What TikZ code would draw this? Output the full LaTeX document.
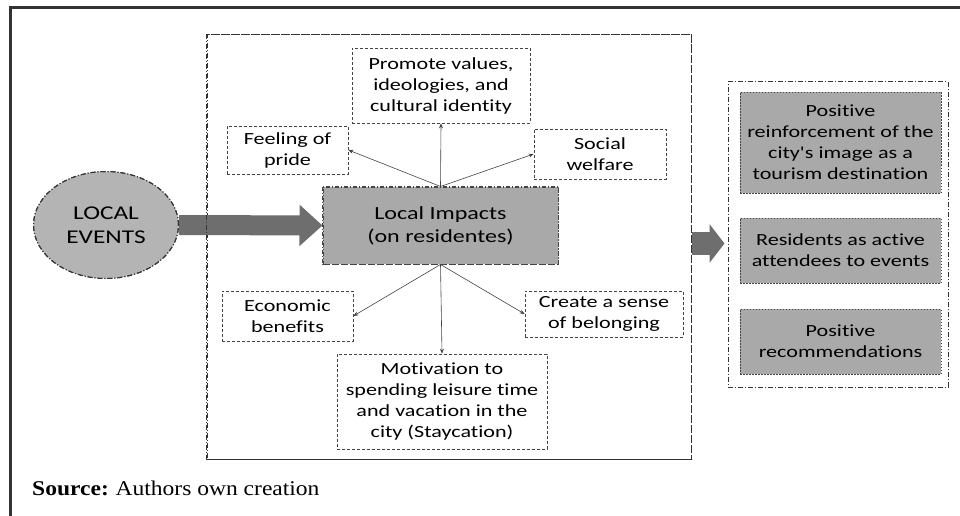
\documentclass[tikz,border=0pt]{standalone}
\usepackage{fontspec}
\setmainfont{Carlito}[FakeStretch=1.3, Ligatures={TeXOff,CommonOff}]
\newfontfamily\srcfont{Liberation Serif}[FakeStretch=1.12]
\usetikzlibrary{arrows.meta,shapes.geometric}
\definecolor{framec}{HTML}{333333}
\definecolor{linec}{HTML}{444444}
\definecolor{boxfill}{HTML}{A9A9A9}
\definecolor{ellfill}{HTML}{B4B4B4}
\definecolor{arrowc}{HTML}{6E6E6E}
\tikzset{
  x=1pt, y=-1pt,
  txt/.style={font=\fontsize{17}{21}\selectfont, align=center, text=black, inner sep=0pt},
  impact/.style={txt, draw=linec, line width=0.7pt, dash pattern=on 3pt off 2pt},
  grayitem/.style={txt, fill=boxfill, draw=linec, line width=0.7pt, dash pattern=on 1.5pt off 1.5pt},
  dashdot/.style={draw=framec, line width=1pt, dash pattern=on 5pt off 2pt on 1pt off 2pt},
  centerdash/.style={draw=linec, line width=1pt, dash pattern=on 4pt off 2pt on 1pt off 2pt},
  thin arrow/.style={draw=linec, line width=0.6pt, -{Stealth[length=5pt,width=4pt]}},
}
\begin{document}
\begin{tikzpicture}
\useasboundingbox (0,0) rectangle (960,516);
\fill[white] (0,0) rectangle (960,516);
% outer frame (top and left)
\draw[framec, line width=3pt] (10,516) -- (10,8) -- (960,8);

% big dash-dot box
\node[dashdot, minimum width=484pt, minimum height=424pt, inner sep=0pt] (bigbox) at (449,247) {};
% right dash-dot box
\node[dashdot, minimum width=220pt, minimum height=305pt, inner sep=0pt] (rbox) at (838,234.5) {};

% ellipse
\node[ellipse, fill=ellfill, dashdot, minimum width=145pt, minimum height=107pt, inner sep=0pt,
      font=\fontsize{19.5}{24}\selectfont, align=center] (events) at (106,225) {LOCAL\\EVENTS};

% central box
\node[txt, fill=boxfill, centerdash, minimum width=235pt, minimum height=77pt,
      font=\fontsize{18.5}{23}\selectfont] (local) at (440.5,225.5)
      {Local Impacts\\(on residentes)};

% impact boxes
\node[impact, minimum width=178pt, minimum height=75pt] (promote) at (441,85.5)
  {Promote values,\\ideologies, and\\cultural identity};
\node[impact, minimum width=121pt, minimum height=48pt] (pride) at (287.5,150)
  {Feeling of\\pride};
\node[impact, minimum width=132pt, minimum height=50pt] (welfare) at (600,154)
  {Social\\welfare};
\node[impact, minimum width=131pt, minimum height=50pt] (econ) at (287.5,316)
  {Economic\\benefits};
\node[impact, minimum width=158pt, minimum height=46pt] (belong) at (604,314)
  {Create a sense\\of belonging};
\node[impact, minimum width=210pt, minimum height=95pt] (motiv) at (442,401.5)
  {Motivation to\\spending leisure time\\and vacation in the\\city (Staycation)};

% right items
\node[grayitem, minimum width=201pt, minimum height=101pt] (r1) at (840.5,142.5)
  {Positive\\reinforcement of the\\city's image as a\\tourism destination};
\node[grayitem, minimum width=201pt, minimum height=65pt] (r2) at (840.5,250.5)
  {Residents as active\\attendees to events};
\node[grayitem, minimum width=201pt, minimum height=65pt] (r3) at (840.5,341.5)
  {Positive\\recommendations};

% thin arrows
\draw[thin arrow] (local.north) -- (promote.south);
\draw[thin arrow] (local.north) -- (pride.east);
\draw[thin arrow] (local.north) -- (welfare.west);
\draw[thin arrow] (local.south) -- (econ.east);
\draw[thin arrow] (local.south) -- (motiv.north);
\draw[thin arrow] (local.south) -- (belong.west);

% big arrows
\draw[arrowc, line width=20pt, -{Triangle[length=23pt,width=40pt]}] (events.east) -- (local.west);
\coordinate (ra) at (692,243.5);
\draw[arrowc, line width=23pt, -{Triangle[length=15pt,width=38pt]}, shorten >=3pt] (ra) -- (rbox.west |- ra);
% redraw borders on top of the arrows
\node[ellipse, dashdot, minimum width=145pt, minimum height=107pt, inner sep=0pt] (eventsb) at (106,225) {};
\draw[dashdot] (bigbox.north west) rectangle (bigbox.south east);
\draw[centerdash] (local.north west) rectangle (local.south east);

% source
\node[anchor=base west, inner sep=0pt, font=\srcfont\fontsize{21}{25}\selectfont] (src) at (32,495)
  {\textbf{Source:}\hspace{-1pt} Authors own creation};
\end{tikzpicture}
\end{document}
